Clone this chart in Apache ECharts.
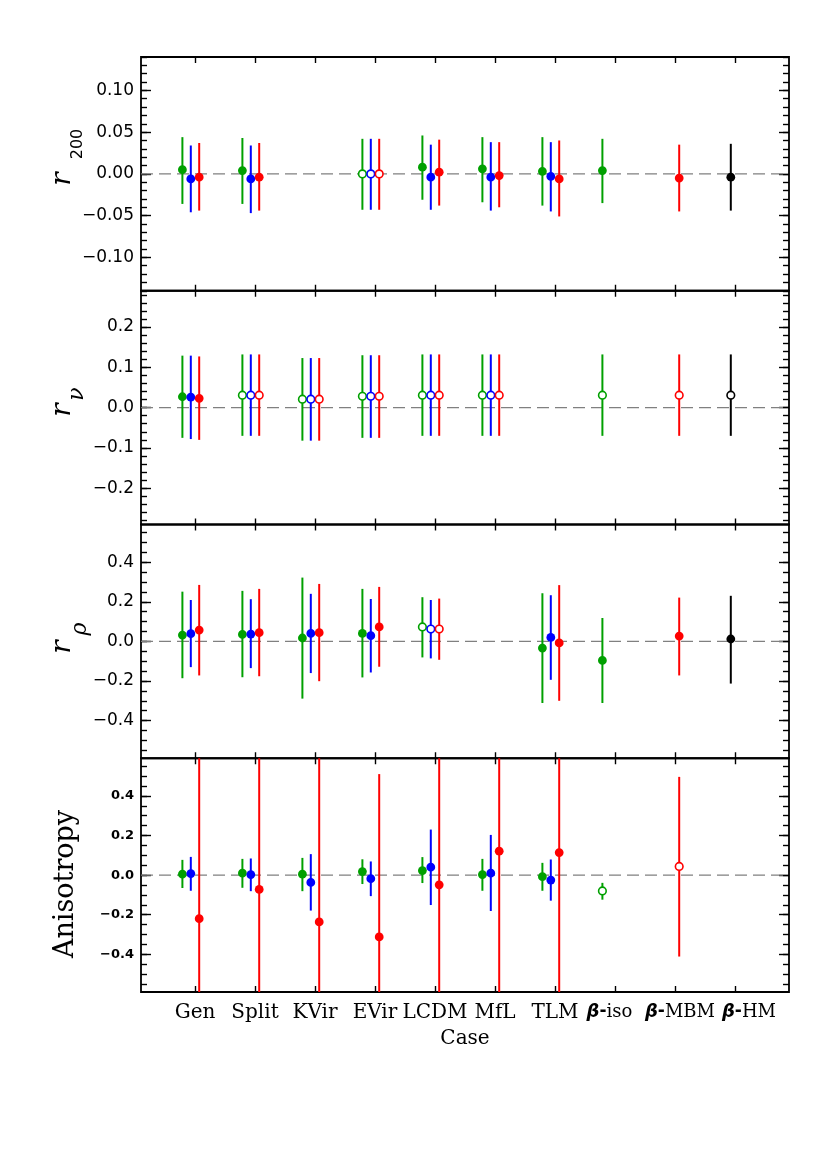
<!DOCTYPE html>
<html>
<head>
<meta charset="utf-8">
<script src="https://cdn.jsdelivr.net/npm/echarts@6/dist/echarts.min.js"></script>
<style>
html, body { margin: 0; padding: 0; background: #fff; }
#chart { width: 830px; height: 1167px; }
</style>
</head>
<body>
<div id="chart"></div>
<script>
const cases = ['Gen', 'Split', 'KVir', 'EVir', 'LCDM', 'MfL', 'TLM', 'β-iso', 'β-MBM', 'β-HM'];

// rows are [value, lower end, upper end] per case, null = not plotted
const r200Green = [[0.005, -0.036, 0.044], [0.004, -0.036, 0.043], null, [0.000, -0.043, 0.042], [0.008, -0.031, 0.046], [0.006, -0.034, 0.044], [0.003, -0.038, 0.044], [0.004, -0.035, 0.042], null, null];
const r200Blue = [[-0.006, -0.046, 0.034], [-0.006, -0.047, 0.034], null, [0.000, -0.043, 0.042], [-0.004, -0.043, 0.035], [-0.004, -0.044, 0.038], [-0.003, -0.045, 0.038], null, null, null];
const r200Red = [[-0.004, -0.044, 0.037], [-0.004, -0.044, 0.037], null, [0.000, -0.043, 0.042], [0.002, -0.038, 0.041], [-0.002, -0.040, 0.038], [-0.006, -0.051, 0.040], null, [-0.005, -0.045, 0.035], null];
const r200Black = [null, null, null, null, null, null, null, null, null, [-0.004, -0.044, 0.036]];
const r200Open = [0, 0, 0, 1, 0, 0, 0, 0, 0, 0];
const r200Ticks = [-0.10, -0.05, 0, 0.05, 0.10];

const rnuGreen = [[0.027, -0.075, 0.129], [0.031, -0.070, 0.132], [0.021, -0.082, 0.123], [0.028, -0.075, 0.130], [0.031, -0.070, 0.132], [0.031, -0.070, 0.132], null, [0.031, -0.070, 0.132], null, null];
const rnuBlue = [[0.026, -0.078, 0.129], [0.031, -0.070, 0.132], [0.021, -0.082, 0.123], [0.028, -0.075, 0.130], [0.031, -0.070, 0.132], [0.031, -0.070, 0.132], null, null, null, null];
const rnuRed = [[0.023, -0.080, 0.127], [0.031, -0.070, 0.132], [0.021, -0.082, 0.123], [0.028, -0.075, 0.130], [0.031, -0.070, 0.132], [0.031, -0.070, 0.132], null, null, [0.031, -0.070, 0.132], null];
const rnuBlack = [null, null, null, null, null, null, null, null, null, [0.031, -0.070, 0.132]];
const rnuOpen = [0, 1, 1, 1, 1, 1, 1, 1, 1, 1];
const rnuTicks = [-0.2, -0.1, 0, 0.1, 0.2];

const rrhoGreen = [[0.032, -0.186, 0.251], [0.035, -0.181, 0.255], [0.017, -0.289, 0.322], [0.040, -0.182, 0.265], [0.073, -0.081, 0.223], null, [-0.034, -0.311, 0.243], [-0.096, -0.311, 0.118], null, null];
const rrhoBlue = [[0.039, -0.130, 0.209], [0.037, -0.135, 0.213], [0.040, -0.160, 0.240], [0.029, -0.157, 0.214], [0.062, -0.086, 0.209], null, [0.020, -0.194, 0.233], null, null, null];
const rrhoRed = [[0.057, -0.172, 0.285], [0.044, -0.176, 0.265], [0.044, -0.201, 0.290], [0.073, -0.128, 0.275], [0.062, -0.093, 0.216], null, [-0.008, -0.300, 0.284], null, [0.027, -0.172, 0.221], null];
const rrhoBlack = [null, null, null, null, null, null, null, null, null, [0.012, -0.213, 0.230]];
const rrhoOpen = [0, 0, 0, 0, 1, 0, 0, 0, 0, 0];
const rrhoTicks = [-0.4, -0.2, 0, 0.2, 0.4];

const anisoGreen = [[0.005, -0.065, 0.077], [0.010, -0.064, 0.082], [0.005, -0.081, 0.087], [0.018, -0.045, 0.080], [0.023, -0.040, 0.091], [0.003, -0.079, 0.082], [-0.008, -0.079, 0.062], [-0.080, -0.124, -0.039], null, null];
const anisoBlue = [[0.008, -0.079, 0.092], [0.003, -0.081, 0.084], [-0.037, -0.179, 0.106], [-0.018, -0.106, 0.069], [0.040, -0.151, 0.230], [0.010, -0.181, 0.203], [-0.025, -0.129, 0.079], null, null, null];
const anisoRed = [[-0.220, -1.5, 1.5], [-0.072, -1.5, 1.5], [-0.236, -1.5, 1.5], [-0.312, -1.5, 0.510], [-0.049, -1.5, 1.5], [0.121, -1.5, 1.5], [0.114, -1.5, 1.5], null, [0.044, -0.411, 0.496], null];
const anisoOpen = [0, 0, 0, 0, 0, 0, 0, 1, 1, 0];
const anisoTicks = [-0.4, -0.2, 0, 0.2, 0.4];

const GREEN = '#00a000', BLUE = '#0000ff', RED = '#ff0000', BLACK = '#000000';

const panels = [
  { min: -0.14, max: 0.14, minor: 0.01, dec: 2, ticks: r200Ticks, open: r200Open,
    sets: [[GREEN, r200Green, -0.21], [BLUE, r200Blue, -0.07], [RED, r200Red, 0.07], [BLACK, r200Black, -0.07]] },
  { min: -0.29, max: 0.29, minor: 0.02, dec: 1, ticks: rnuTicks, open: rnuOpen,
    sets: [[GREEN, rnuGreen, -0.21], [BLUE, rnuBlue, -0.07], [RED, rnuRed, 0.07], [BLACK, rnuBlack, -0.07]] },
  { min: -0.59, max: 0.59, minor: 0.05, dec: 1, ticks: rrhoTicks, open: rrhoOpen,
    sets: [[GREEN, rrhoGreen, -0.21], [BLUE, rrhoBlue, -0.07], [RED, rrhoRed, 0.07], [BLACK, rrhoBlack, -0.07]] },
  { min: -0.59, max: 0.59, minor: 0.05, dec: 1, ticks: anisoTicks, open: anisoOpen, small: true,
    sets: [[GREEN, anisoGreen, -0.21], [BLUE, anisoBlue, -0.07], [RED, anisoRed, 0.07]] }
];

const X_MIN = 0.1, X_MAX = 10.9;
const caseTicks = cases.map((c, i) => i + 1);

function stepValues(min, max, step) {
  const out = [];
  for (let k = Math.ceil(min / step - 1e-9); k <= Math.floor(max / step + 1e-9); k++) {
    out.push(Math.round(k * step * 1000) / 1000);
  }
  return out;
}

function errRenderer(color, offset) {
  return function (params, api) {
    const cs = params.coordSys;
    const x = api.value(0) + offset;
    const c = api.coord([x, api.value(1)]);
    const lo = api.coord([x, api.value(2)]);
    const hi = api.coord([x, api.value(3)]);
    const top = cs.y, bot = cs.y + cs.height;
    const y1 = Math.max(top, Math.min(bot, hi[1]));
    const y2 = Math.max(top, Math.min(bot, lo[1]));
    const open = api.value(4) === 1;
    return {
      type: 'group',
      children: [
        { type: 'line', shape: { x1: c[0], y1: y1, x2: c[0], y2: y2 }, style: { stroke: color, lineWidth: 2 } },
        { type: 'circle', shape: { cx: c[0], cy: c[1], r: open ? 3.8 : 4.4 },
          style: { fill: open ? '#fff' : color, stroke: color, lineWidth: open ? 1.6 : 0 } }
      ]
    };
  };
}

const tickStyle = { color: '#000', width: 1.4 };
const betaStyle = { fontFamily: 'DejaVu Sans', fontStyle: 'italic', fontWeight: 'bold', fontSize: 18, color: '#000' };
const labelRich = {
  b: betaStyle,
  d: { fontFamily: 'DejaVu Sans', fontWeight: 'bold', fontSize: 17, color: '#000' },
  t: { fontFamily: 'DejaVu Serif', fontSize: 18, color: '#000' },
  bHM: Object.assign({}, betaStyle, { padding: [0, 0, 0, 28] }),
  bMBM: Object.assign({}, betaStyle, { padding: [0, 0, 0, 10] }),
  tIso: { fontFamily: 'DejaVu Serif', fontSize: 18, color: '#000', padding: [0, 11, 0, 0] }
};

function caseLabel(v) {
  const name = cases[Math.round(v) - 1] || '';
  if (name.indexOf('β-') === 0) {
    const rest = name.slice(2);
    if (rest === 'iso') return '{b|β}{d|-}{tIso|' + rest + '}';
    if (rest === 'MBM') return '{bMBM|β}{d|-}{t|' + rest + '}';
    return '{bHM|β}{d|-}{t|' + rest + '}';
  }
  return name;
}

const grids = [], xAxes = [], yAxes = [], series = [];
const gridTop = 57, gridH = 233.75;

panels.forEach((pn, p) => {
  grids.push({ left: 141, width: 648, top: gridTop + p * gridH, height: gridH,
    show: true, borderColor: '#000', borderWidth: 1.8, backgroundColor: 'rgba(0,0,0,0)' });

  ['bottom', 'top'].forEach(pos => {
    const showLab = p === 3 && pos === 'bottom';
    xAxes.push({
      gridIndex: p, type: 'value', position: pos, min: X_MIN, max: X_MAX,
      axisLine: { show: false, onZero: false }, splitLine: { show: false },
      axisTick: { show: true, inside: true, length: 6, customValues: caseTicks, lineStyle: tickStyle },
      axisLabel: showLab ? {
        show: true, customValues: caseTicks, formatter: caseLabel, margin: 11,
        fontFamily: 'DejaVu Serif', fontSize: 20, color: '#000', rich: labelRich
      } : { show: false },
      name: showLab ? 'Case' : '', nameLocation: 'middle', nameGap: 37,
      nameTextStyle: { fontFamily: 'DejaVu Serif', fontSize: 20, color: '#000' }
    });
  });

  ['left', 'right'].forEach(pos => {
    yAxes.push({
      gridIndex: p, type: 'value', position: pos, min: pn.min, max: pn.max,
      axisLine: { show: false, onZero: false }, splitLine: { show: false },
      axisTick: { show: true, inside: true, length: 6, customValues: stepValues(pn.min, pn.max, pn.minor), lineStyle: tickStyle },
      axisLabel: pos === 'left' ? {
        show: true, customValues: pn.ticks, margin: 7,
        formatter: v => (Math.abs(v) < 1e-9 ? 0 : v).toFixed(pn.dec).replace('-', '\u2212'),
        fontFamily: 'DejaVu Sans', fontSize: pn.small ? 13 : 17, fontWeight: pn.small ? 'bold' : 'normal', color: '#000'
      } : { show: false }
    });
    yAxes.push({
      gridIndex: p, type: 'value', position: pos, min: pn.min, max: pn.max,
      axisLine: { show: false, onZero: false }, splitLine: { show: false },
      axisTick: { show: true, inside: true, length: 10, customValues: pn.ticks, lineStyle: tickStyle },
      axisLabel: { show: false }
    });
  });

  // dashed zero reference line
  series.push({
    type: 'line', xAxisIndex: 2 * p, yAxisIndex: 4 * p, data: [[X_MIN, 0], [X_MAX, 0]],
    symbol: 'none', silent: true, z: 1,
    lineStyle: { color: '#808080', width: 1.2, type: [12, 6] }
  });

  pn.sets.forEach(([color, rows, offset]) => {
    const data = [];
    rows.forEach((r, i) => { if (r) data.push([i + 1, r[0], r[1], r[2], pn.open[i]]); });
    series.push({
      type: 'custom', xAxisIndex: 2 * p, yAxisIndex: 4 * p, z: 3, silent: true,
      encode: { x: 0, y: 1 }, data: data, renderItem: errRenderer(color, offset)
    });
  });
});

function vText(x, y, text, font) {
  return { type: 'text', x: x, y: y, rotation: Math.PI / 2, silent: true,
    style: { text: text, font: font, fill: '#000', textAlign: 'center', textVerticalAlign: 'middle', align: 'center', verticalAlign: 'middle' } };
}

const chart = echarts.init(document.getElementById('chart'), null, { renderer: 'canvas' });
chart.setOption({
  animation: false,
  backgroundColor: '#fff',
  grid: grids,
  xAxis: xAxes,
  yAxis: yAxes,
  series: series,
  graphic: [
    vText(63, 179, 'r', 'italic 28px "DejaVu Serif"'),
    vText(77.5, 144, '200', '16px "DejaVu Sans"'),
    vText(63, 410, 'r', 'italic 28px "DejaVu Serif"'),
    vText(77, 394, '\u03bd', 'italic 22px "DejaVu Serif"'),
    vText(63, 647, 'r', 'italic 28px "DejaVu Serif"'),
    vText(80, 629, '\u03c1', 'italic 22px "DejaVu Serif"'),
    vText(66, 884, 'Anisotropy', '27px "DejaVu Serif"')
  ]
});
window.addEventListener('resize', () => chart.resize());
</script>
</body>
</html>
